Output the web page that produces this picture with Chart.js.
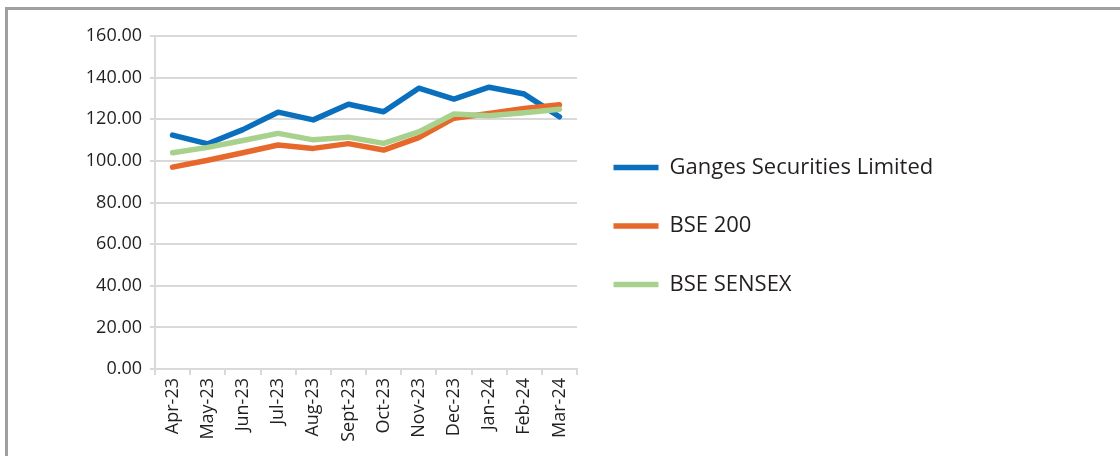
<!DOCTYPE html>
<html>
<head>
<meta charset="utf-8">
<script src="https://cdn.jsdelivr.net/npm/chart.js@4"></script>
<style>
  html, body { margin: 0; padding: 0; background: #fff; }
  #wrap { position: relative; width: 1120px; height: 456px; overflow: hidden; }
  #frame {
    position: absolute; left: 5px; top: 7px; width: 1200px; height: 448px;
    border-top: 3px solid #a0a0a0; border-left: 3px solid #a0a0a0;
  }
  canvas { position: absolute; left: 0; top: 0; }
</style>
</head>
<body>
<div id="wrap">
  <div id="frame"></div>
  <canvas id="chart" width="1120" height="456"></canvas>
</div>
<script>
const months = ["Apr-23", "May-23", "Jun-23", "Jul-23", "Aug-23", "Sept-23",
  "Oct-23", "Nov-23", "Dec-23", "Jan-24", "Feb-24", "Mar-24"];
const ganges = [112.4, 108.2, 115.0, 123.4, 119.7, 127.2, 123.6, 134.9, 129.7, 135.4, 132.1, 121.2];
const bse200 = [97.0, 100.3, 103.9, 107.6, 106.0, 108.3, 105.2, 111.2, 120.5, 122.8, 125.2, 127.0];
const sensex = [103.9, 106.5, 109.8, 113.2, 110.1, 111.4, 108.4, 113.9, 122.5, 121.7, 123.1, 124.8];

const gridColor = "#d9d9d9";
const textColor = "#231f20";

// legend sits in a fixed box right of the plot, moved up a bit
const legendTweak = {
  id: "legendTweak",
  afterInit(chart) {
    const fit = chart.legend.fit;
    chart.legend.fit = function () {
      fit.call(this);
      this.width = 543;
    };
  },
  afterLayout(chart) {
    chart.legend.top -= 20;
    chart.legend.bottom -= 20;
  },
};

const line = (label, data, color, order) => ({
  label,
  data,
  order,
  borderColor: color,
  backgroundColor: color,
  borderWidth: 5.5,
  borderCapStyle: "round",
  borderJoinStyle: "round",
  pointRadius: 0,
  pointHoverRadius: 0,
  tension: 0,
  fill: false,
});

new Chart(document.getElementById("chart"), {
  type: "line",
  data: {
    labels: months,
    datasets: [
      line("Ganges Securities Limited", ganges, "#0a70bd", 3),
      line("BSE 200", bse200, "#e8672a", 2),
      line("BSE SENSEX", sensex, "#a9d18e", 1),
    ],
  },
  plugins: [legendTweak],
  options: {
    responsive: false,
    animation: false,
    layout: { padding: { top: 36, left: 0, right: 0, bottom: 0 } },
    scales: {
      x: {
        offset: true,
        afterFit: (s) => { s.height = 87; },
        grid: { offset: true, drawOnChartArea: false, color: gridColor, lineWidth: 2, tickLength: 6 },
        border: { color: gridColor, width: 2 },
        ticks: {
          minRotation: 90,
          maxRotation: 90,
          padding: 3,
          color: textColor,
          font: { family: "Open Sans", size: 18 },
        },
      },
      y: {
        min: 0,
        max: 160,
        afterFit: (s) => { s.width = 155; },
        grid: { color: gridColor, lineWidth: 2, tickLength: 5 },
        border: { color: gridColor, width: 2 },
        ticks: {
          stepSize: 20,
          padding: 8,
          color: textColor,
          font: { family: "Open Sans", size: 18 },
          callback: (v) => v.toFixed(2),
        },
      },
    },
    plugins: {
      tooltip: { enabled: false },
      legend: {
        position: "right",
        labels: {
          usePointStyle: true,
          pointStyle: "line",
          pointStyleWidth: 45,
          boxWidth: 45,
          padding: 36.5,
          color: textColor,
          font: { family: "Open Sans", size: 22 },
          sort: (a, b) => a.datasetIndex - b.datasetIndex,
        },
      },
    },
  },
});
</script>
</body>
</html>
